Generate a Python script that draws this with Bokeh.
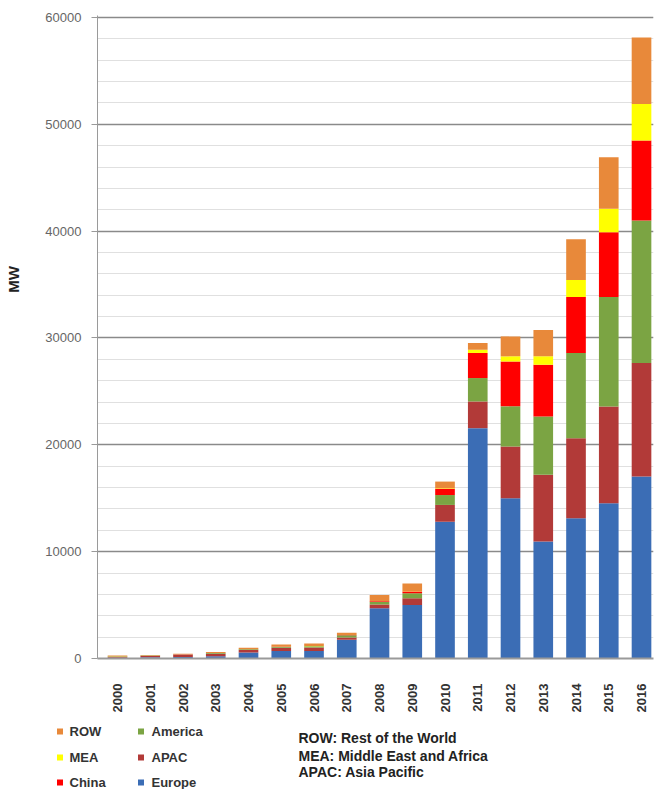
import math
from bokeh.plotting import figure
from bokeh.layouts import column, row
from bokeh.models import Range1d, FixedTicker
from bokeh.core.properties import value
from bokeh.embed import file_html
from bokeh.resources import INLINE

years = [2000, 2001, 2002, 2003, 2004, 2005, 2006, 2007, 2008, 2009, 2010, 2011, 2012, 2013, 2014, 2015, 2016]
europe = [70, 110, 150, 200, 550, 700, 700, 1750, 4700, 5000, 12800, 21560, 15000, 10940, 13125, 14530, 17030]
apac = [110, 130, 190, 240, 250, 300, 320, 220, 350, 650, 1575, 2500, 4840, 6250, 7500, 9060, 10630]
america = [30, 30, 40, 70, 60, 80, 120, 200, 250, 450, 925, 2190, 3760, 5470, 7965, 10240, 13340]
china = [10, 10, 15, 10, 10, 10, 10, 20, 50, 160, 600, 2350, 4200, 4840, 5240, 6070, 7480]
mea = [5, 5, 5, 5, 5, 10, 10, 10, 20, 30, 50, 300, 480, 780, 1590, 2190, 3420]
row_ = [55, 45, 50, 75, 125, 200, 240, 200, 570, 740, 610, 630, 1870, 2470, 3830, 4830, 6230]

series = ["Europe", "APAC", "America", "China", "MEA", "ROW"]
colors = ["#3B6DB5", "#B23A38", "#7BA443", "#FF0000", "#FFFF00", "#E8893A"]
y_ticks = [0, 10000, 20000, 30000, 40000, 50000, 60000]
legend_col1 = ["ROW", "MEA", "China"]
legend_col2 = ["America", "APAC", "Europe"]
notes = ["ROW: Rest of the World", "MEA: Middle East and Africa", "APAC: Asia Pacific"]
y_title = "MW"

data = {"year": years, "Europe": europe, "APAC": apac, "America": america,
        "China": china, "MEA": mea, "ROW": row_}
color_of = dict(zip(series, colors))

TOP_H = 716
MW_W = 22

# narrow strip holding the y-axis title
m = figure(width=MW_W, height=TOP_H, output_backend="svg", toolbar_location=None,
           x_range=Range1d(0, MW_W), y_range=Range1d(TOP_H, 0),
           x_axis_location=None, y_axis_location=None,
           min_border_left=0, min_border_right=0, min_border_top=0, min_border_bottom=0)
m.outline_line_color = None
m.grid.visible = False
m.text(x=[12.5], y=[294], text=[y_title], angle=math.pi / 2,
       text_font=value("Liberation Sans"), text_font_style="bold",
       text_font_size=value("15px"), text_color="#222222",
       text_align="center", text_baseline="middle")

p = figure(width=661 - MW_W, height=TOP_H, output_backend="svg", toolbar_location=None,
           x_range=Range1d(1999.389, 2016.366), y_range=Range1d(0, 60187),
           min_border_left=97 - MW_W, min_border_right=8, min_border_top=15,
           min_border_bottom=TOP_H - 658)
p.outline_line_color = None

p.vbar_stack(series, x="year", width=0.6, color=colors, source=data, line_color=None)

# y axis
p.yaxis.ticker = FixedTicker(ticks=y_ticks, minor_ticks=list(range(0, 60001, 2000)))
p.yaxis.axis_line_color = "#9a9a9a"
p.yaxis.major_tick_line_color = "#9a9a9a"
p.yaxis.major_tick_out = 6
p.yaxis.major_tick_in = 0
p.yaxis.minor_tick_line_color = None
p.yaxis.major_label_standoff = 10
p.yaxis.major_label_text_font = "Liberation Sans"
p.yaxis.major_label_text_font_size = "13px"
p.yaxis.major_label_text_color = "#666666"

# x axis
p.xaxis.ticker = FixedTicker(ticks=years)
p.xaxis.major_label_orientation = math.pi / 2
p.xaxis.axis_line_color = "#9a9a9a"
p.xaxis.axis_line_width = 2
p.xaxis.major_tick_line_color = None
p.xaxis.minor_tick_line_color = None
p.xaxis.major_label_standoff = 19
p.xaxis.major_label_text_font = "Liberation Sans"
p.xaxis.major_label_text_font_style = "bold"
p.xaxis.major_label_text_font_size = "13px"
p.xaxis.major_label_text_color = "#333333"

p.xgrid.grid_line_color = None
p.ygrid.grid_line_color = "#8a8a8a"
p.ygrid.grid_line_width = 1.5
p.ygrid.minor_grid_line_color = "#e0e0e0"
p.ygrid.minor_grid_line_width = 1

# legend / notes panel below the chart
BOT_H = 789 - TOP_H
q = figure(width=661, height=BOT_H, output_backend="svg", toolbar_location=None,
           x_range=Range1d(0, 661), y_range=Range1d(BOT_H, 0),
           x_axis_location=None, y_axis_location=None,
           min_border_left=0, min_border_right=0, min_border_top=0, min_border_bottom=0)
q.outline_line_color = None
q.grid.visible = False

rows_y = [15, 41, 66]
q.scatter(x=[59.5] * 3, y=rows_y, marker="square", size=6, line_color=None,
          fill_color=[color_of[n] for n in legend_col1])
q.text(x=[69] * 3, y=rows_y, text=legend_col1, text_font=value("Liberation Sans"),
       text_font_style="bold", text_font_size=value("13px"), text_color="#333333",
       text_baseline="middle")
q.scatter(x=[140.5] * 3, y=rows_y, marker="square", size=6, line_color=None,
          fill_color=[color_of[n] for n in legend_col2])
q.text(x=[151] * 3, y=rows_y, text=legend_col2, text_font=value("Liberation Sans"),
       text_font_style="bold", text_font_size=value("13px"), text_color="#333333",
       text_baseline="middle")
q.text(x=[298] * 3, y=[21, 39, 55], text=notes, text_font=value("Liberation Sans"),
       text_font_style="bold", text_font_size=value("14px"), text_color="#222222",
       text_baseline="middle")

layout = column(row(m, p, spacing=0), q, spacing=0)
open("out.html", "w").write(file_html(layout, INLINE))
